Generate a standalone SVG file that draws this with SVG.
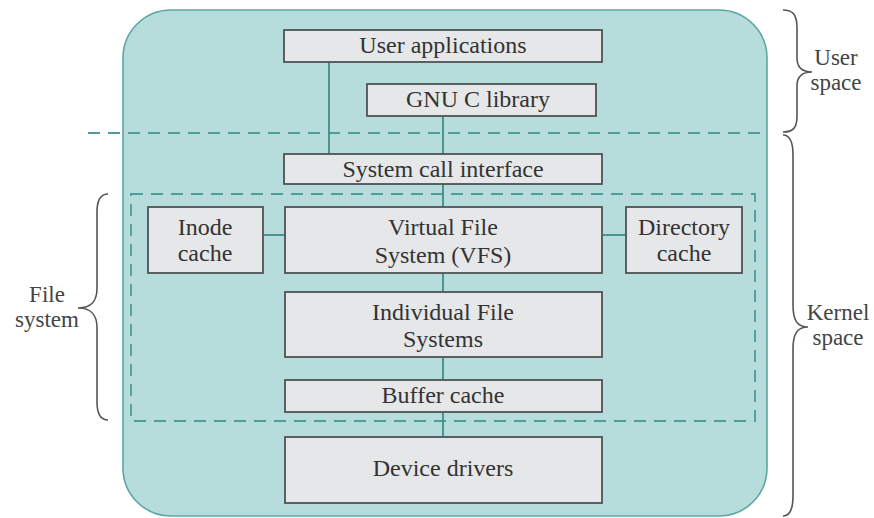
<svg xmlns="http://www.w3.org/2000/svg" width="874" height="518" viewBox="0 0 874 518">
  <style>
    .panel { fill: #b6dcdb; stroke: #5da6a1; stroke-width: 1.6; }
    .box { fill: #e6e7e9; stroke: #4f5354; stroke-width: 1.8; }
    .lbl { font-family: 'Liberation Serif', 'Times New Roman', serif; font-size: 24px; fill: #333; text-anchor: middle; }
    .side { font-family: 'Liberation Serif', 'Times New Roman', serif; font-size: 23px; fill: #444; text-anchor: middle; }
    .link { stroke: #3f8d88; stroke-width: 1.8; fill: none; }
    .dash { stroke: #4f9d97; stroke-width: 1.8; fill: none; stroke-dasharray: 12 8; }
    .brace { stroke: #555; stroke-width: 1.6; fill: none; }
  </style>

  <!-- background panel -->
  <rect class="panel" x="123" y="10" width="644" height="506" rx="48" ry="48"/>

  <!-- user/kernel boundary and file system region -->
  <line class="dash" x1="88" y1="133" x2="768" y2="133"/>
  <rect class="dash" x="131" y="194" width="624" height="227"/>

  <!-- connectors -->
  <g id="connectors">
    <line class="link" x1="329" y1="62" x2="329" y2="154"/>
    <line class="link" x1="443" y1="116" x2="443" y2="154"/>
    <line class="link" x1="443" y1="184" x2="443" y2="207"/>
    <line class="link" x1="263" y1="235" x2="285" y2="235"/>
    <line class="link" x1="602" y1="235" x2="626" y2="235"/>
    <line class="link" x1="443" y1="273" x2="443" y2="292"/>
    <line class="link" x1="443" y1="357" x2="443" y2="380"/>
    <line class="link" x1="443" y1="412" x2="443" y2="437"/>
  </g>

  <g id="user-applications">
    <rect class="box" x="284" y="30" width="318" height="32"/>
    <text class="lbl" x="443" y="53">User applications</text>
  </g>
  <g id="gnu-c-library">
    <rect class="box" x="367" y="84" width="229" height="32"/>
    <text class="lbl" x="478" y="107">GNU C library</text>
  </g>
  <g id="system-call-interface">
    <rect class="box" x="284" y="154" width="318" height="30"/>
    <text class="lbl" x="443" y="177">System call interface</text>
  </g>
  <g id="inode-cache">
    <rect class="box" x="148" y="207" width="115" height="66"/>
    <text class="lbl" x="205" y="235">Inode</text>
    <text class="lbl" x="205" y="261">cache</text>
  </g>
  <g id="vfs">
    <rect class="box" x="285" y="207" width="317" height="66"/>
    <text class="lbl" x="443" y="235">Virtual File</text>
    <text class="lbl" x="443" y="263">System (VFS)</text>
  </g>
  <g id="directory-cache">
    <rect class="box" x="626" y="207" width="116" height="66"/>
    <text class="lbl" x="684" y="235">Directory</text>
    <text class="lbl" x="684" y="261">cache</text>
  </g>
  <g id="individual-file-systems">
    <rect class="box" x="285" y="292" width="317" height="65"/>
    <text class="lbl" x="443" y="320">Individual File</text>
    <text class="lbl" x="443" y="347">Systems</text>
  </g>
  <g id="buffer-cache">
    <rect class="box" x="285" y="380" width="317" height="32"/>
    <text class="lbl" x="443" y="403">Buffer cache</text>
  </g>
  <g id="device-drivers">
    <rect class="box" x="285" y="437" width="317" height="66"/>
    <text class="lbl" x="443" y="476">Device drivers</text>
  </g>

  <!-- braces and their labels -->
  <g id="user-space">
    <path class="brace" d="M783,10 C794,10 797,16 797,28 L797,58 C797,67 801,72 812,72 C801,72 797,77 797,86 L797,116 C797,127 794,132 783,132"/>
    <text class="side" x="836" y="65">User</text>
    <text class="side" x="836" y="90">space</text>
  </g>
  <g id="kernel-space">
    <path class="brace" d="M783,135 C790,135 793,142 793,155 L793,305 C793,320 797,327 808,327 C797,327 793,334 793,349 L793,496 C793,509 790,516 783,516"/>
    <text class="side" x="838" y="320">Kernel</text>
    <text class="side" x="838" y="345">space</text>
  </g>
  <g id="file-system">
    <path class="brace" d="M108,194 C101,194 97,200 97,212 L97,288 C97,301 92,308 78,308 C92,308 97,315 97,328 L97,402 C97,414 101,420 108,420"/>
    <text class="side" x="47" y="302">File</text>
    <text class="side" x="47" y="327">system</text>
  </g>
</svg>
